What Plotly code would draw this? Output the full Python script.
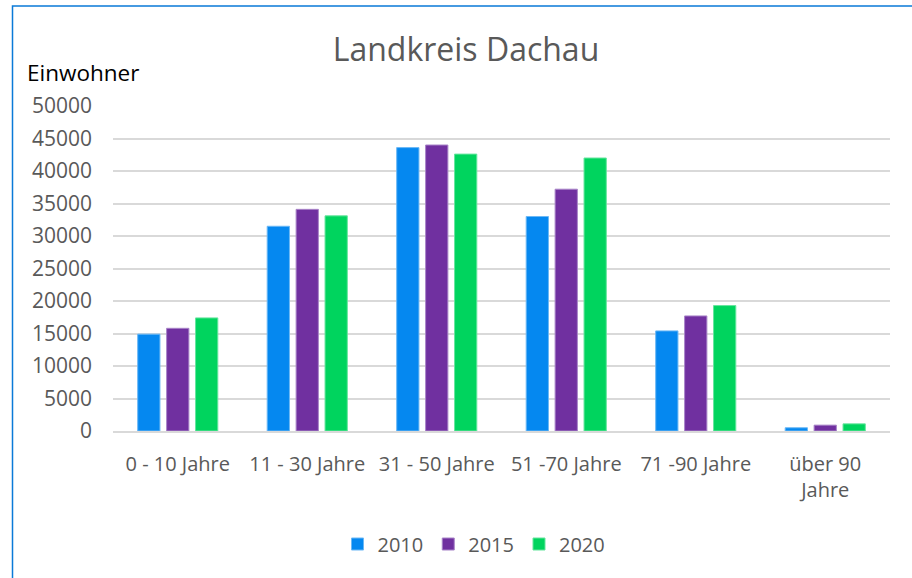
import plotly.graph_objects as go

categories = ["0 - 10 Jahre", "11 - 30 Jahre", "31 - 50 Jahre", "51 -70 Jahre", "71 -90 Jahre", "über 90<br>Jahre"]
years = ["2010", "2015", "2020"]
values_2010 = [14900, 31500, 43600, 33000, 15400, 500]
values_2015 = [15800, 34100, 44000, 37200, 17700, 900]
values_2020 = [17400, 33100, 42600, 42000, 19300, 1100]
y_ticks = [0, 5000, 10000, 15000, 20000, 25000, 30000, 35000, 40000, 45000, 50000]

colors = ["#0588F0", "#7030A0", "#00D45E"]
edge = ["#6CB8F5", "#A884C8", "#66E59E"]
series = [values_2010, values_2015, values_2020]

FONT = "Open Sans"
W, H = 912, 578
L, R, T, B = 113, 22, 106, 147
pw, ph = W - L - R, H - T - B

fig = go.Figure()
for name, vals, c, e in zip(years, series, colors, edge):
    fig.add_trace(go.Bar(
        x=categories, y=vals, name=name,
        marker=dict(color=c, line=dict(color=e, width=1)),
    ))

def px_x(p):
    return (p - L) / pw

def px_y(p):
    return (H - B - p) / ph

fig.update_layout(
    width=W, height=H,
    margin=dict(l=L, r=R, t=T, b=B),
    paper_bgcolor="white", plot_bgcolor="white",
    barmode="group", bargap=0.33, bargroupgap=0.23,
    font=dict(family=FONT, color="#595959", size=20),
    title=dict(text="Landkreis Dachau", x=px_x(466), xref="paper", xanchor="center",
               y=1 - 50 / H, yanchor="middle",
               font=dict(size=32, color="#595959", family=FONT)),
    yaxis=dict(range=[0, 50000], tickvals=y_ticks, ticktext=[str(v) for v in y_ticks],
               showgrid=True, gridcolor="#D9D9D9", gridwidth=1.5,
               zeroline=False, showline=False, ticks="", ticklabelstandoff=20,
               tickfont=dict(size=21, color="#595959")),
    xaxis=dict(showline=True, linecolor="#D9D9D9", linewidth=1.5, ticks="",
               tickangle=0, ticklabelstandoff=14,
               tickfont=dict(size=20, color="#595959")),
    legend=dict(orientation="h", x=px_x(474), xanchor="center", y=px_y(544), yanchor="middle",
                font=dict(size=20, color="#595959"), itemwidth=30,
                traceorder="normal"),
    showlegend=True,
    shapes=[dict(type="rect", xref="paper", yref="paper",
                 x0=px_x(12.5), x1=px_x(930), y0=px_y(600), y1=px_y(6),
                 line=dict(color="#0A7AD8", width=1.5), fillcolor="rgba(0,0,0,0)")],
    annotations=[dict(text="Einwohner", xref="paper", yref="paper",
                      x=px_x(25), y=px_y(72), xanchor="left", yanchor="middle",
                      showarrow=False, font=dict(size=22.5, color="#000000", family=FONT))],
)

fig.write_html("out.html", config={"displayModeBar": False},
               post_script="document.body.style.margin='0';document.body.style.overflow='hidden';")
